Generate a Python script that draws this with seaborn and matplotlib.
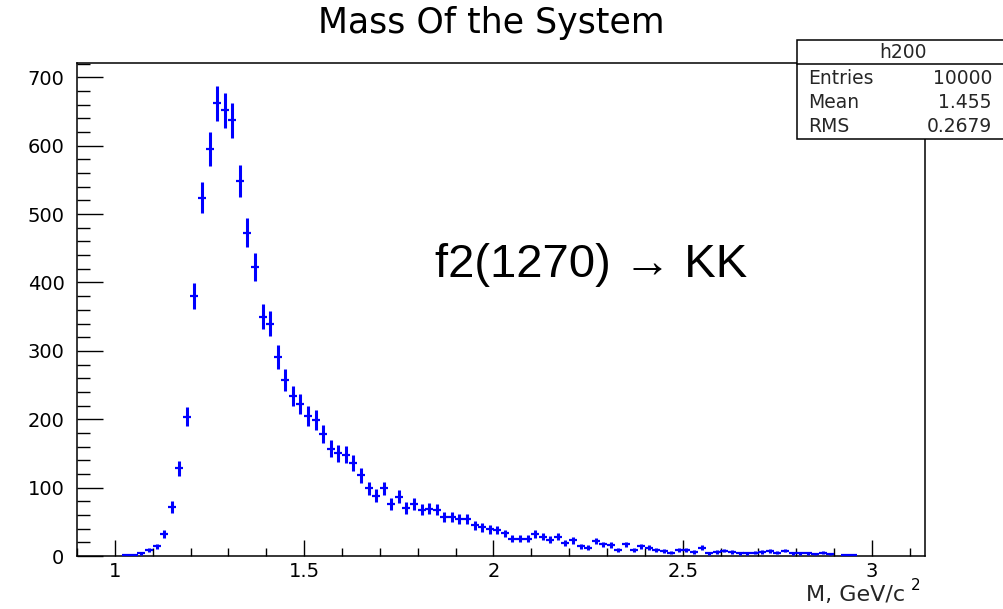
import numpy as np
import matplotlib
matplotlib.use("Agg")
import matplotlib.pyplot as plt
from matplotlib.patches import Rectangle
from matplotlib.lines import Line2D
from matplotlib.ticker import MultipleLocator, FixedLocator
import seaborn as sns

# ---- data: histogram h200, 112 bins from 0.90 to 3.14 (bin width 0.02) ----
hist_low, hist_high, n_bins = 0.90, 3.14, 112
counts = [
    0, 0, 0, 0, 0, 0,                                   # 0.91 - 1.01
    1, 2, 4, 9, 14, 32, 72, 128, 204,                   # 1.03 - 1.19
    380, 524, 595, 662, 652, 637, 548, 473, 423, 350,   # 1.21 - 1.39
    340, 291, 258, 234, 222, 205, 199, 178,             # 1.41 - 1.55
    157, 150, 148, 136, 118, 99, 88, 99, 76, 87, 70, 76,
    68, 69, 68, 57, 57, 54, 54, 45, 42, 39, 38,         # 1.57 - 2.01
    33, 25, 25, 25, 32, 28, 24, 28, 19, 23, 14, 12, 22,
    17, 16, 9, 17, 9, 14, 12, 9, 7, 5, 9, 9, 6,         # 2.03 - 2.53
    12, 4, 6, 8, 6, 4, 4, 5, 6, 7, 5, 8, 4, 4, 4, 3, 5,
    3, 0, 1, 1,                                         # 2.55 - 2.95
    0, 0, 0, 0, 0, 0, 0, 0, 0,                          # 2.97 - 3.13
]
x_ticks = [1, 1.5, 2, 2.5, 3]
x_tick_labels = ["1", "1.5", "2", "2.5", "3"]
y_ticks = [0, 100, 200, 300, 400, 500, 600, 700]
stats_names = ["Entries", "Mean", "RMS"]
stats_values = ["10000", "1.455", "0.2679"]
hist_name = "h200"
title = "Mass Of the System"
annotation = "f2(1270) \u2192 KK"

# ---- style ----
sns.set_theme(style="ticks")
plt.rcParams["font.family"] = ["DejaVu Sans"]
plt.rcParams["axes.edgecolor"] = "black"
plt.rcParams["xtick.color"] = "black"
plt.rcParams["ytick.color"] = "black"

W, H = 1004, 609
fig = plt.figure(figsize=(W / 100, H / 100), dpi=100)
fig.patch.set_facecolor("white")
ax = fig.add_axes([77 / W, 1 - 556 / H, (925 - 77) / W, (556 - 63) / H])
ax.set_facecolor("white")

edges = np.linspace(hist_low, hist_high, n_bins + 1)
centers = (edges[:-1] + edges[1:]) / 2
counts_arr = np.array(counts, dtype=float)
mask = counts_arr > 0
xc = centers[mask]
yc = counts_arr[mask]

blue = "#0000ff"
ax.errorbar(xc, yc, yerr=np.sqrt(yc), fmt="none", ecolor=blue,
            elinewidth=2.2, capsize=0, zorder=3)
bin_w_pt = (hist_high - hist_low) / n_bins * ((925 - 77) / (hist_high - hist_low)) * 0.72
sns.scatterplot(x=xc, y=yc, marker="_", s=bin_w_pt ** 2, color=blue,
                linewidth=1.6, ax=ax, zorder=4, legend=False)

ax.set_xlim(hist_low, hist_high)
ax.set_ylim(0, 721)
ax.xaxis.set_major_locator(FixedLocator(x_ticks))
ax.set_xticklabels(x_tick_labels)
ax.xaxis.set_minor_locator(MultipleLocator(0.1))
ax.yaxis.set_major_locator(FixedLocator(y_ticks))
ax.set_yticklabels([str(v) for v in y_ticks])
ax.yaxis.set_minor_locator(MultipleLocator(20))

ax.tick_params(axis="y", which="major", direction="in", length=18.7, width=1.0,
               labelsize=14, pad=9)
ax.tick_params(axis="y", which="minor", direction="in", length=9.4, width=1.0)
ax.tick_params(axis="x", which="major", direction="in", length=11.5, width=1.0,
               labelsize=14, pad=4)
ax.tick_params(axis="x", which="minor", direction="in", length=5.8, width=1.0)
for sp in ax.spines.values():
    sp.set_visible(True)
    sp.set_linewidth(1.1)
    sp.set_color("black")

ax.set_xlabel("M, GeV/c", fontsize=16, loc="right", va="baseline")
ax.xaxis.set_label_coords((905 - 77) / 848, (556 - 601) / 493)
ax.text((916 - 77) / 848, (556 - 590) / 493, "2", transform=ax.transAxes,
        fontsize=11, ha="center", va="baseline", color="black")
ax.set_ylabel("")

# title
fig.text(491.5 / W, 1 - 33 / H, title, fontsize=25, ha="center", va="baseline",
         color="black")

# annotation
fig.text(435 / W, 1 - 277 / H, annotation, fontsize=34, ha="left", va="baseline",
         family=["Liberation Sans", "DejaVu Sans"], color="black")

# stats box
bx0, bx1 = 797 / W, 1.0
by0, by1 = 1 - 139 / H, 1 - 40 / H
fig.add_artist(Rectangle((bx0, by0), bx1 - bx0, by1 - by0, transform=fig.transFigure,
                         facecolor="white", edgecolor="black", linewidth=1.1,
                         zorder=5, clip_on=False))
fig.add_artist(Line2D([bx0, bx1], [1 - 64 / H, 1 - 64 / H], transform=fig.transFigure,
                      color="black", linewidth=1.1, zorder=6))
fig.text(903 / W, 1 - 52 / H, hist_name, fontsize=13.5, ha="center", va="center",
         zorder=7)
for i, (nm, val) in enumerate(zip(stats_names, stats_values)):
    yy = 1 - (79 + 24 * i) / H
    fig.text(808 / W, yy, nm, fontsize=13.5, ha="left", va="center", zorder=7)
    fig.text(992 / W, yy, val, fontsize=13.5, ha="right", va="center", zorder=7)

fig.savefig("out.png", dpi=100, facecolor="white")
